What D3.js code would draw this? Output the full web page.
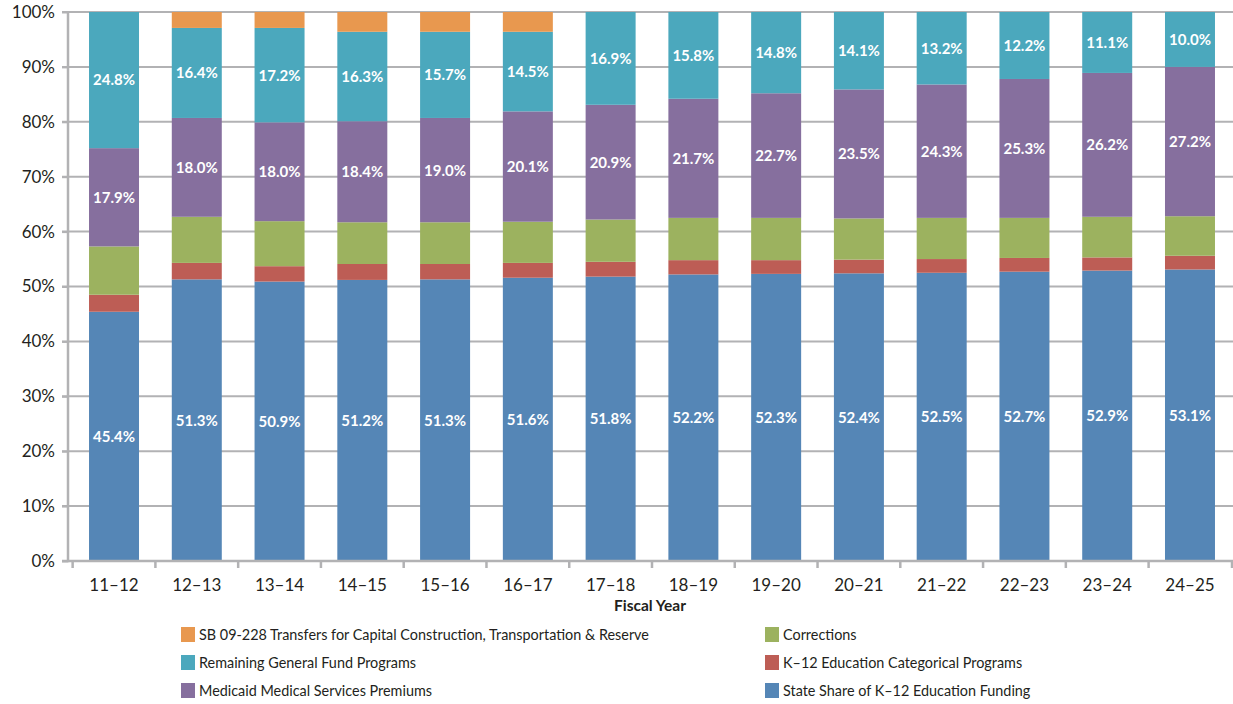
<!DOCTYPE html>
<html>
<head>
<meta charset="utf-8">
<script src="https://cdn.jsdelivr.net/npm/d3@7"></script>
<style>
  html, body { margin: 0; padding: 0; background: #fff; }
  svg { display: block; font-family: Lato, "Noto Sans", sans-serif; }
</style>
</head>
<body>
<svg id="chart" width="1233" height="704"></svg>
<script>
// Fiscal years on the x axis
const years = ["11–12","12–13","13–14","14–15","15–16","16–17","17–18","18–19","19–20","20–21","21–22","22–23","23–24","24–25"];

// Share of General Fund (%) for each program, bottom to top
const stateShareK12 = [45.4, 51.3, 50.9, 51.2, 51.3, 51.6, 51.8, 52.2, 52.3, 52.4, 52.5, 52.7, 52.9, 53.1];
const k12Categorical = [3.1, 3.0, 2.8, 2.9, 2.8, 2.7, 2.7, 2.6, 2.5, 2.5, 2.5, 2.5, 2.4, 2.5];
const corrections = [8.8, 8.4, 8.2, 7.6, 7.6, 7.5, 7.7, 7.7, 7.7, 7.5, 7.5, 7.3, 7.4, 7.2];
const medicaid = [17.9, 18.0, 18.0, 18.4, 19.0, 20.1, 20.9, 21.7, 22.7, 23.5, 24.3, 25.3, 26.2, 27.2];
const remainingGF = [24.8, 16.4, 17.2, 16.3, 15.7, 14.5, 16.9, 15.8, 14.8, 14.1, 13.2, 12.2, 11.1, 10.0];
const sbTransfers = [0, 2.9, 2.9, 3.6, 3.6, 3.6, 0, 0, 0, 0, 0, 0, 0, 0];

// Series that carry value labels inside the bars
const labelledSeries = ["state", "medicaid", "remaining"];

const yTicks = [0, 10, 20, 30, 40, 50, 60, 70, 80, 90, 100];

const series = [
  { key: "state", name: "State Share of K–12 Education Funding", values: stateShareK12, color: "#5586b6" },
  { key: "cat", name: "K–12 Education Categorical Programs", values: k12Categorical, color: "#bd5d55" },
  { key: "corr", name: "Corrections", values: corrections, color: "#9cb25f" },
  { key: "medicaid", name: "Medicaid Medical Services Premiums", values: medicaid, color: "#866f9e" },
  { key: "remaining", name: "Remaining General Fund Programs", values: remainingGF, color: "#4ba8bd" },
  { key: "sb", name: "SB 09-228 Transfers for Capital Construction, Transportation & Reserve", values: sbTransfers, color: "#e8984f" }
];

const rows = years.map((y, i) => {
  const r = { year: y };
  series.forEach(s => r[s.key] = s.values[i]);
  return r;
});

const stack = d3.stack().keys(series.map(s => s.key))(rows);

const svg = d3.select("#chart");
const W = 1233, H = 704;
const margin = { left: 68, top: 12, bottom: 143 };
const x = d3.scaleBand().domain(years).range([margin.left, 1236]).paddingInner(0.396).paddingOuter(0.254);
const y = d3.scaleLinear().domain([0, 100]).range([H - margin.bottom, margin.top]);

const gridColor = "#b2b2b4";
const textColor = "#231f20";

// Horizontal gridlines
svg.append("g").selectAll("line").data(yTicks).join("line")
  .attr("x1", margin.left - 6).attr("x2", W)
  .attr("y1", d => y(d)).attr("y2", d => y(d))
  .attr("stroke", gridColor).attr("stroke-width", 2);

// Stacked bars
const colorOf = Object.fromEntries(series.map(s => [s.key, s.color]));
svg.append("g").selectAll("g").data(stack).join("g")
  .attr("fill", d => colorOf[d.key])
  .selectAll("rect").data(d => d).join("rect")
  .attr("x", d => x(d.data.year))
  .attr("width", x.bandwidth())
  .attr("y", d => y(d[1]))
  .attr("height", d => y(d[0]) - y(d[1]));

// Value labels
svg.append("g").selectAll("g").data(stack.filter(s => labelledSeries.includes(s.key))).join("g")
  .selectAll("text").data(d => d).join("text")
  .attr("x", d => x(d.data.year) + x.bandwidth() / 2)
  .attr("y", d => y((d[0] + d[1]) / 2))
  .attr("dy", "0.36em")
  .attr("text-anchor", "middle")
  .attr("fill", "#fff")
  .attr("font-weight", "bold")
  .attr("font-size", 15)
  .text(d => (d[1] - d[0]).toFixed(1) + "%");

// Y axis
const yAxis = svg.append("g").attr("transform", `translate(${margin.left},0)`)
  .call(d3.axisLeft(y).tickValues(yTicks).tickFormat(d => d + "%").tickSize(6).tickPadding(7));
yAxis.select(".domain").attr("stroke", gridColor).attr("stroke-width", 2.5).attr("d", `M-6,${y(0)}H0V${y(100)}`);
yAxis.selectAll(".tick line").attr("stroke", gridColor).attr("stroke-width", 2);
yAxis.selectAll(".tick text").attr("font-size", 17).attr("fill", textColor).attr("font-family", "Lato, sans-serif");

// X axis with ticks at band boundaries
const xAxisG = svg.append("g").attr("transform", `translate(0,${y(0)})`);
xAxisG.append("line").attr("x1", margin.left).attr("x2", W).attr("stroke", gridColor).attr("stroke-width", 2.5);
const step = x.step();
const boundaries = years.map(yr => x(yr) - step * x.paddingInner() / 2).concat([W - 1]);
xAxisG.selectAll("line.b").data(boundaries).join("line").attr("class", "b")
  .attr("x1", d => d).attr("x2", d => d).attr("y1", 0).attr("y2", 7)
  .attr("stroke", gridColor).attr("stroke-width", 2.5);
xAxisG.selectAll("text").data(years).join("text")
  .attr("x", d => x(d) + x.bandwidth() / 2)
  .attr("y", 30)
  .attr("text-anchor", "middle")
  .attr("font-size", 17).attr("fill", textColor)
  .text(d => d);

svg.append("text")
  .attr("x", 650).attr("y", 611)
  .attr("text-anchor", "middle")
  .attr("font-size", 15.5).attr("font-weight", "bold").attr("fill", textColor)
  .text("Fiscal Year");

// Legend in two columns
const legendOrder = [
  ["sb", 181, 635], ["corr", 765, 635],
  ["remaining", 181, 663], ["cat", 765, 663],
  ["medicaid", 181, 691], ["state", 765, 691]
];
const byKey = Object.fromEntries(series.map(s => [s.key, s]));
const lg = svg.append("g").selectAll("g").data(legendOrder).join("g")
  .attr("transform", d => `translate(${d[1]},${d[2]})`);
lg.append("rect").attr("x", 0).attr("y", -8).attr("width", 14).attr("height", 15)
  .attr("fill", d => byKey[d[0]].color);
lg.append("text").attr("x", 18).attr("y", 0).attr("dy", "0.35em")
  .attr("font-size", 14.4).attr("fill", textColor)
  .text(d => byKey[d[0]].name);
</script>
</body>
</html>
